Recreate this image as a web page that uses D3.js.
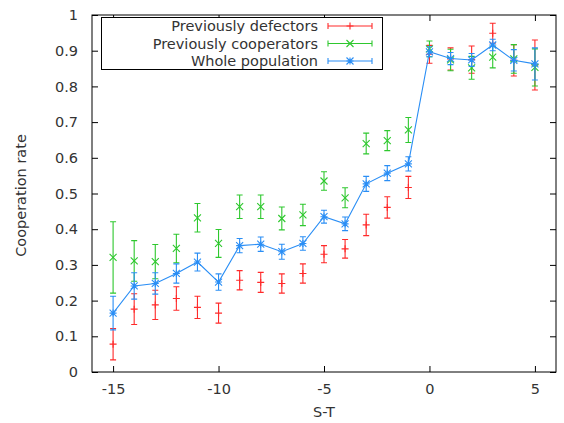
<!DOCTYPE html>
<html>
<head>
<meta charset="utf-8">
<script src="https://cdn.jsdelivr.net/npm/d3@7"></script>
<style>
    body { margin: 0; background: #fff; }
    text { font-family: "DejaVu Sans", sans-serif; fill: #333; }
</style>
</head>
<body>
<div id="chart"></div>
<script>
// data
let st = [-15, -14, -13, -12, -11, -10, -9, -8, -7, -6, -5, -4, -3, -2, -1, 0, 1, 2, 3, 4, 5];
let defectors = [0.078, 0.176, 0.188, 0.206, 0.181, 0.165, 0.257, 0.251, 0.248, 0.276, 0.330, 0.345, 0.412, 0.461, 0.517, 0.890, 0.877, 0.875, 0.949, 0.873, 0.860];
let defectorsErr = [0.044, 0.043, 0.041, 0.033, 0.031, 0.028, 0.027, 0.028, 0.027, 0.027, 0.024, 0.026, 0.030, 0.030, 0.031, 0.025, 0.031, 0.038, 0.028, 0.044, 0.070];
let cooperators = [0.321, 0.311, 0.309, 0.346, 0.432, 0.360, 0.463, 0.463, 0.430, 0.440, 0.535, 0.488, 0.640, 0.648, 0.678, 0.905, 0.874, 0.852, 0.882, 0.877, 0.853];
let cooperatorsErr = [0.100, 0.057, 0.048, 0.040, 0.040, 0.039, 0.033, 0.033, 0.032, 0.030, 0.026, 0.028, 0.029, 0.028, 0.035, 0.022, 0.030, 0.032, 0.030, 0.040, 0.052];
let population = [0.165, 0.241, 0.248, 0.276, 0.308, 0.252, 0.354, 0.358, 0.337, 0.360, 0.435, 0.415, 0.527, 0.557, 0.583, 0.897, 0.878, 0.874, 0.916, 0.873, 0.863];
let populationErr = [0.047, 0.037, 0.030, 0.027, 0.025, 0.023, 0.020, 0.020, 0.021, 0.019, 0.018, 0.019, 0.021, 0.021, 0.020, 0.014, 0.017, 0.018, 0.016, 0.030, 0.045];

let xTicks = [-15, -10, -5, 0, 5];
let yTicks = [0, 0.1, 0.2, 0.3, 0.4, 0.5, 0.6, 0.7, 0.8, 0.9, 1];
let seriesNames = ["Previously defectors", "Previously cooperators", "Whole population"];

let colors = ["#ff2a2a", "#2ec82e", "#2a8ef5"];
let fontSize = "14.5px";

// margin conventions
let margin = {top: 15, right: 8, bottom: 51, left: 92};
let width = 564 - margin.left - margin.right;
let height = 423 - margin.top - margin.bottom;

let svg = d3.select("#chart").append("svg")
    .attr("width", 564)
    .attr("height", 423);

let g = svg.append("g")
    .attr("transform", "translate(" + margin.left + "," + margin.top + ")");

let x = d3.scaleLinear().domain([-16, 6]).range([0, width]);
let y = d3.scaleLinear().domain([0, 1]).range([height, 0]);

// axes: ticks inside, mirrored on top/right
let tickLen = 6;
g.append("g")
    .attr("transform", "translate(0," + height + ")")
    .call(d3.axisBottom(x).tickValues(xTicks).tickSize(-tickLen).tickPadding(12).tickFormat(d => String(d)))
    .call(a => a.select(".domain").remove());
g.append("g")
    .call(d3.axisTop(x).tickValues(xTicks).tickSize(-tickLen).tickFormat(""))
    .call(a => a.select(".domain").remove());
g.append("g")
    .call(d3.axisLeft(y).tickValues(yTicks).tickSize(-tickLen).tickPadding(14).tickFormat(d => String(d)))
    .call(a => a.select(".domain").remove());
g.append("g")
    .attr("transform", "translate(" + width + ",0)")
    .call(d3.axisRight(y).tickValues(yTicks).tickSize(-tickLen).tickFormat(""))
    .call(a => a.select(".domain").remove());

g.selectAll(".tick line").attr("stroke", "#000");
g.selectAll(".tick text").style("font-size", fontSize).attr("fill", "#333");

g.append("rect")
    .attr("width", width).attr("height", height)
    .attr("fill", "none").attr("stroke", "#000").attr("stroke-width", 1);

// axis titles
svg.append("text")
    .attr("x", margin.left + x(-5)).attr("y", 417)
    .attr("text-anchor", "middle")
    .style("font-size", fontSize)
    .text("S-T");
svg.append("text")
    .attr("transform", "translate(26," + (margin.top + height / 2 + 2) + ") rotate(-90)")
    .attr("text-anchor", "middle")
    .style("font-size", fontSize)
    .text("Cooperation rate");

// marker shapes
function marker(sel, type, size) {
    let s = size;
    let path = "";
    if (type === "plus") {
        path = `M${-s},0H${s}M0,${-s}V${s}`;
    } else if (type === "cross") {
        path = `M${-s},${-s}L${s},${s}M${-s},${s}L${s},${-s}`;
    } else {
        path = `M${-s},0H${s}M0,${-s}V${s}M${-s},${-s}L${s},${s}M${-s},${s}L${s},${-s}`;
    }
    sel.append("path").attr("d", path);
}

let cap = 3;
let allSeries = [
    {vals: defectors, errs: defectorsErr, color: colors[0], shape: "plus", line: false},
    {vals: cooperators, errs: cooperatorsErr, color: colors[1], shape: "cross", line: false},
    {vals: population, errs: populationErr, color: colors[2], shape: "star", line: true}
];

allSeries.forEach(function(s) {
    let data = st.map((d, i) => ({x: d, y: s.vals[i], e: s.errs[i]}));
    let grp = g.append("g")
        .attr("stroke", s.color)
        .attr("stroke-width", 1.1)
        .attr("fill", "none");

    if (s.line) {
        grp.append("path")
            .datum(data)
            .attr("d", d3.line().x(d => x(d.x)).y(d => y(d.y)));
    }

    let pts = grp.selectAll(".pt")
        .data(data)
        .enter()
        .append("g")
        .attr("class", "pt");

    pts.append("path")
        .attr("d", d => {
            let cx = x(d.x), y0 = y(d.y - d.e), y1 = y(d.y + d.e);
            return `M${cx},${y0}V${y1}M${cx - cap},${y0}H${cx + cap}M${cx - cap},${y1}H${cx + cap}`;
        });

    pts.append("g")
        .attr("transform", d => "translate(" + x(d.x) + "," + y(d.y) + ")")
        .each(function() { marker(d3.select(this), s.shape, 3.5); });
});

// legend
let legend = svg.append("g");
legend.append("rect")
    .attr("x", 101.5).attr("y", 17.5)
    .attr("width", 281).attr("height", 52)
    .attr("fill", "#fff").attr("stroke", "#000");

seriesNames.forEach(function(name, i) {
    let ly = 26 + i * 17.5;
    legend.append("text")
        .attr("x", 318).attr("y", ly)
        .attr("dy", "0.35em")
        .attr("text-anchor", "end")
        .style("font-size", fontSize)
        .text(name);
    let lg = legend.append("g")
        .attr("stroke", allSeries[i].color)
        .attr("stroke-width", 1.1)
        .attr("fill", "none");
    lg.append("path")
        .attr("d", `M328,${ly}H372M328,${ly - cap}V${ly + cap}M372,${ly - cap}V${ly + cap}`);
    lg.append("g")
        .attr("transform", "translate(350," + ly + ")")
        .each(function() { marker(d3.select(this), allSeries[i].shape, 3.5); });
});
</script>
</body>
</html>
